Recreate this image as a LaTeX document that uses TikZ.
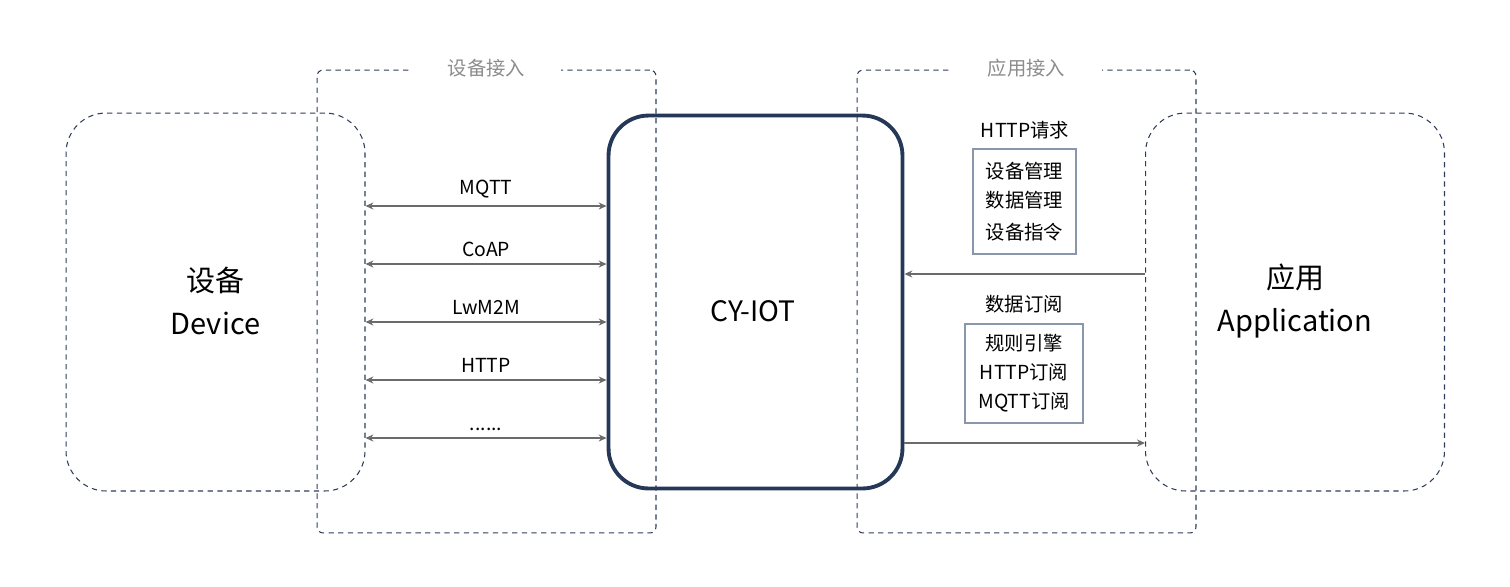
\documentclass[tikz,border=0pt]{standalone}
\usepackage{fontspec}
\setmainfont{Noto Sans CJK SC}
\usetikzlibrary{arrows.meta, positioning, calc}
\definecolor{cyNavy}{HTML}{263858}
\definecolor{cyDash}{HTML}{2E3D5B}
\definecolor{cyLine}{HTML}{6B6B6B}
\definecolor{cyMute}{HTML}{8C8C8C}
\definecolor{cyFrame}{HTML}{8A96AC}

\tikzset{
  zone/.style={draw=cyDash, dash pattern=on 3pt off 2.5pt, line width=0.6pt,
    rounded corners=0.8cm, minimum width=5.98cm, minimum height=7.56cm},
  access/.style={draw=cyDash, dash pattern=on 3pt off 2.5pt, line width=0.6pt,
    rounded corners=0.12cm, minimum width=6.78cm, minimum height=9.26cm},
  core/.style={draw=cyNavy, line width=2.2pt, rounded corners=0.8cm,
    minimum width=5.88cm, minimum height=7.46cm},
  title/.style={fill=white, text=cyMute, minimum width=3cm, inner ysep=1pt},
  biglbl/.style={font=\fontsize{16.5}{24}\selectfont, align=center},
  funcbox/.style={draw=cyFrame, line width=0.8pt, align=center, inner sep=0pt},
  link/.style={draw=cyLine, line width=1.1pt},
  tip/.tip={Stealth[length=4.5pt, width=4pt]}
}

\begin{document}
\begin{tikzpicture}[x=0.02cm, y=-0.02cm, font=\fontsize{11}{16.5}\selectfont]
  \useasboundingbox (0,0) rectangle (1510,586);

  \node[zone] (dev) at (215.5,302) {};
  \node[zone] (app) at (1295,302) {};
  \node[access] (devacc) at (486.5,301.5) {};
  \node[access] (appacc) at (1026.5,301.5) {};
  \node[core] (iot) at (755.5,302) {};

  \node[title] (devacc-t) at (486.5,68) {设备接入};
  \node[title] (appacc-t) at (1026.5,68) {应用接入};

  \node[biglbl] (dev-l) at (215.5,301) {设备\\Device};
  \node[biglbl] (app-l) at (1295,301) {应用\\Application};
  \node[font=\fontsize{16}{20}\selectfont] (iot-l) at (753,311) {CY-IOT};

  \foreach \y/\proto [count=\i] in {206/MQTT, 264/CoAP, 322/LwM2M, 380/HTTP, 438/{......}}{
    \draw[link, tip-tip] (dev.east |- 0,\y) -- (iot.west |- 0,\y)
      node[midway, above=0.5pt] (proto\i) {\proto};
  }

  \node (req-t) at (1025,130) {HTTP请求};
  \node[funcbox, minimum width=2.06cm, minimum height=2.1cm] (req) at (1024.5,201.5)
    {\raisebox{3pt}{\parbox{2cm}{\centering 设备管理\\数据管理\\[2pt]设备指令}}};
  \draw[link, -tip] (app.west |- 0,274) -- (iot.east |- 0,274);

  \node (sub-t) at (1024,304) {数据订阅};
  \node[funcbox, minimum width=2.36cm, minimum height=1.98cm] (sub) at (1024,373.5)
    {规则引擎\\HTTP订阅\\MQTT订阅};
  \draw[link, -tip] (iot.east |- 0,443) -- (app.west |- 0,443);
\end{tikzpicture}
\end{document}
